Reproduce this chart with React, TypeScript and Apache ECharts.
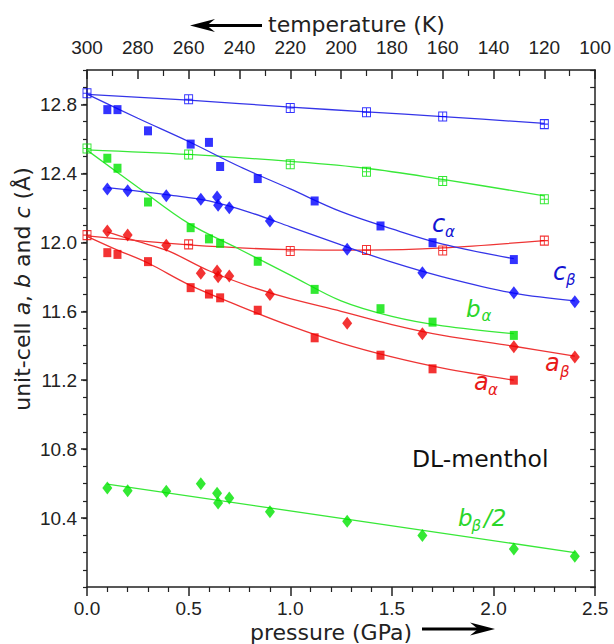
import React, { useEffect, useRef } from "react";
import * as echarts from "echarts";

// Pressure (GPa) of the high-pressure runs for each phase
const alphaPressure = [0.1, 0.15, 0.3, 0.51, 0.6, 0.655, 0.84, 1.12, 1.444, 1.7, 2.1];
const betaPressure = [0.1, 0.2, 0.39, 0.56, 0.64, 0.645, 0.7, 0.9, 1.28, 1.65, 2.1, 2.4];

// alpha phase cell edges (Å)
const cAlpha = [12.77, 12.77, 12.647, 12.57, 12.58, 12.44, 12.37, 12.24, 12.095, 11.998, 11.9];
const bAlpha = [12.488, 12.43, 12.234, 12.085, 12.02, 11.994, 11.89, 11.727, 11.615, 11.537, 11.46];
const aAlpha = [11.94, 11.93, 11.888, 11.737, 11.7, 11.678, 11.606, 11.446, 11.345, 11.266, 11.2];

// beta phase cell edges (Å)
const cBeta = [12.31, 12.3, 12.27, 12.25, 12.263, 12.215, 12.2, 12.124, 11.96, 11.824, 11.708, 11.655];
const aBeta = [12.066, 12.043, 11.983, 11.82, 11.833, 11.8, 11.804, 11.698, 11.53, 11.47, 11.394, 11.335];
const bBetaHalf = [10.575, 10.559, 10.555, 10.599, 10.544, 10.487, 10.516, 10.437, 10.381, 10.299, 10.22, 10.178];

// ambient-pressure cooling run, temperature (K)
const ambientTemp = [300, 260, 220, 190, 160, 120];
const cAmbient = [12.865, 12.83, 12.78, 12.755, 12.73, 12.686];
const bAmbient = [12.545, 12.51, 12.453, 12.41, 12.356, 12.25];
const aAmbient = [12.042, 11.988, 11.95, 11.955, 11.953, 12.01];

// fitted trend curves
const alphaFitP = [0, 0.25, 0.5, 0.75, 1.0, 1.25, 1.5, 1.75, 2.1];
const cAlphaFit = [12.86, 12.72, 12.585, 12.44, 12.31, 12.178, 12.078, 11.99, 11.905];
const bAlphaFit = [12.535, 12.32, 12.11, 11.96, 11.81, 11.66, 11.57, 11.515, 11.47];
const aAlphaFitP = [0, 0.15, 0.3, 0.5, 0.75, 1.0, 1.25, 1.5, 1.75, 2.1];
const aAlphaFit = [12.035, 11.955, 11.88, 11.755, 11.63, 11.515, 11.415, 11.335, 11.27, 11.2];
const betaFitP = [0.1, 0.25, 0.4, 0.6, 0.8, 1.0, 1.25, 1.5, 1.75, 2.1, 2.4];
const cBetaFit = [12.318, 12.297, 12.275, 12.24, 12.174, 12.09, 11.985, 11.885, 11.8, 11.705, 11.66];
const aBetaFit = [12.06, 12.005, 11.95, 11.835, 11.745, 11.673, 11.6, 11.523, 11.46, 11.397, 11.34];
const bBetaHalfFitP = [0.1, 2.4];
const bBetaHalfFit = [10.597, 10.2];
const cAmbientFit = [12.858, 12.825, 12.785, 12.757, 12.73, 12.69];
const bAmbientFit = [12.537, 12.51, 12.47, 12.43, 12.365, 12.27];
const aAmbientFit = [12.037, 11.985, 11.958, 11.955, 11.968, 12.01];

// axis ticks
const pressureTicks = [0, 0.5, 1.0, 1.5, 2.0, 2.5];
const temperatureTicks = [300, 280, 260, 240, 220, 200, 180, 160, 140, 120, 100];

const BLUE = "#0000ff";
const GREEN = "#00e400";
const RED = "#f00000";
const BLUE_LINE = "#3535e8";
const GREEN_LINE = "#38e838";
const RED_LINE = "#ee3434";
const INK = "#222222";

const FONT_NUM = '"Liberation Sans", Arial, sans-serif';
const FONT_TXT = '"DejaVu Sans", Verdana, sans-serif';

const OPEN_SQUARE = "path://M0 0H10V10H0Z M0 5H10 M5 0V10";

const zip = (xs: number[], ys: number[]) => xs.map((x, i) => [x, ys[i]]);

function fitLine(xs: number[], ys: number[], color: string, xAxisIndex = 0) {
  return {
    type: "line",
    xAxisIndex,
    yAxisIndex: 0,
    data: zip(xs, ys),
    showSymbol: false,
    smooth: 0.35,
    silent: true,
    lineStyle: { color, width: 1.3 },
    z: 2,
  };
}

function filled(xs: number[], ys: number[], color: string, symbol: string) {
  return {
    type: "scatter",
    xAxisIndex: 0,
    yAxisIndex: 0,
    data: zip(xs, ys),
    symbol: symbol === "diamond" ? "diamond" : "rect",
    symbolSize: symbol === "diamond" ? [10, 13] : [8, 9],
    itemStyle: { color },
    z: 4,
  };
}

function openSquares(ys: number[], color: string) {
  return {
    type: "scatter",
    xAxisIndex: 1,
    yAxisIndex: 0,
    data: zip(ambientTemp, ys),
    symbol: OPEN_SQUARE,
    symbolSize: [8, 9],
    itemStyle: { color: "rgba(255,255,255,0)", borderColor: color, borderWidth: 1 },
    z: 4,
  };
}

function label(x: number, y: number, text: string, color: string, size: number) {
  return {
    type: "text",
    x,
    y,
    z: 10,
    style: {
      text,
      fill: color,
      fontSize: size,
      fontFamily: FONT_TXT,
      fontStyle: "italic",
      align: "left",
      verticalAlign: "middle",
    },
  };
}

export default function App() {
  const ref = useRef<HTMLDivElement>(null);

  useEffect(() => {
    document.body.style.margin = "0";
    if (!ref.current) return;
    const chart = echarts.init(ref.current, undefined, { renderer: "svg" });

    const numLabel = { fontFamily: FONT_NUM, fontSize: 19, lineHeight: 19, color: INK };
    const axisLine = { show: true, lineStyle: { color: INK, width: 1.5 } };

    chart.setOption({
      animation: false,
      backgroundColor: "#ffffff",
      grid: { left: 87, right: 14, top: 70, bottom: 57 },
      xAxis: [
        {
          type: "value",
          position: "bottom",
          min: pressureTicks[0],
          max: pressureTicks[pressureTicks.length - 1],
          interval: 0.5,
          axisLine,
          axisTick: { show: true, length: 9, lineStyle: { color: INK, width: 1.5 } },
          minorTick: { show: true, splitNumber: 5, length: 5, lineStyle: { color: INK, width: 1.2 } },
          splitLine: { show: false },
          axisLabel: { ...numLabel, margin: 12, formatter: (v: number) => v.toFixed(1) },
        },
        {
          type: "value",
          position: "top",
          min: temperatureTicks[temperatureTicks.length - 1],
          max: temperatureTicks[0],
          interval: 20,
          inverse: true,
          axisLine,
          axisTick: { show: true, inside: true, length: 9, lineStyle: { color: INK, width: 1.5 } },
          minorTick: { show: true, splitNumber: 2, length: 6, lineStyle: { color: INK, width: 1.2 } },
          splitLine: { show: false },
          axisLabel: { ...numLabel, margin: 13 },
        },
      ],
      yAxis: [
        {
          type: "value",
          position: "left",
          min: 10,
          max: 13,
          interval: 0.4,
          axisLine,
          axisTick: { show: true, length: 6, lineStyle: { color: INK, width: 1.5 } },
          splitLine: { show: false },
          axisLabel: {
            ...numLabel,
            margin: 10,
            showMinLabel: false,
            showMaxLabel: false,
            formatter: (v: number) => v.toFixed(1),
          },
        },
        {
          type: "value",
          position: "right",
          min: 10,
          max: 13,
          interval: 0.1,
          axisLine,
          axisTick: { show: true, inside: true, length: 5, lineStyle: { color: INK, width: 1.2 } },
          splitLine: { show: false },
          axisLabel: { show: false },
        },
        {
          type: "value",
          position: "left",
          min: 10,
          max: 13,
          interval: 0.1,
          axisLine: { show: false },
          axisTick: { show: true, length: 4, lineStyle: { color: INK, width: 1.2 } },
          splitLine: { show: false },
          axisLabel: { show: false },
        },
      ],
      series: [
        fitLine(ambientTemp, cAmbientFit, BLUE_LINE, 1),
        fitLine(ambientTemp, bAmbientFit, GREEN_LINE, 1),
        fitLine(ambientTemp, aAmbientFit, RED_LINE, 1),
        fitLine(alphaFitP, cAlphaFit, BLUE_LINE),
        fitLine(alphaFitP, bAlphaFit, GREEN_LINE),
        fitLine(aAlphaFitP, aAlphaFit, RED_LINE),
        fitLine(betaFitP, cBetaFit, BLUE_LINE),
        fitLine(betaFitP, aBetaFit, RED_LINE),
        fitLine(bBetaHalfFitP, bBetaHalfFit, GREEN_LINE),
        openSquares(cAmbient, BLUE),
        openSquares(bAmbient, GREEN),
        openSquares(aAmbient, RED),
        filled(alphaPressure, cAlpha, BLUE, "rect"),
        filled(alphaPressure, bAlpha, GREEN, "rect"),
        filled(alphaPressure, aAlpha, RED, "rect"),
        filled(betaPressure, cBeta, BLUE, "diamond"),
        filled(betaPressure, aBeta, RED, "diamond"),
        filled(betaPressure, bBetaHalf, GREEN, "diamond"),
      ],
      graphic: [
        // axis titles with direction arrows
        {
          type: "text",
          x: 268,
          y: 24,
          style: { text: "temperature (K)", fill: INK, fontSize: 22, lineHeight: 22, fontFamily: FONT_TXT, align: "left", verticalAlign: "middle" },
        },
        { type: "line", shape: { x1: 204, y1: 25.5, x2: 262, y2: 25.5 }, style: { stroke: "#000", lineWidth: 3 } },
        { type: "polygon", shape: { points: [[190, 25.5], [215, 19], [207, 25.5], [215, 32]] }, style: { fill: "#000" } },
        {
          type: "text",
          x: 250,
          y: 632,
          style: { text: "pressure (GPa)", fill: INK, fontSize: 22, fontFamily: FONT_TXT, align: "left", verticalAlign: "middle" },
        },
        { type: "line", shape: { x1: 422, y1: 629, x2: 481, y2: 629 }, style: { stroke: "#000", lineWidth: 3 } },
        { type: "polygon", shape: { points: [[495, 629], [470, 622.5], [478, 629], [470, 635.5]] }, style: { fill: "#000" } },
        {
          type: "text",
          x: 22,
          y: 289,
          rotation: Math.PI / 2,
          style: {
            text: "{n|unit-cell }{i|a}{n|, }{i|b}{n| and }{i|c}{n| (Å)}",
            align: "center",
            verticalAlign: "middle",
            fill: INK,
            fontSize: 22,
            fontFamily: FONT_TXT,
            rich: {
              n: { fontSize: 22, fontFamily: FONT_TXT, fill: INK },
              i: { fontSize: 22, fontFamily: FONT_TXT, fontStyle: "italic", fill: INK },
            },
          },
        },
        {
          type: "text",
          x: 412,
          y: 459,
          style: { text: "DL-menthol", fill: "#111", fontSize: 23.5, fontFamily: FONT_TXT, align: "left", verticalAlign: "middle" },
        },
        // series labels
        label(432, 223.5, "c", "#1414d2", 24),
        label(445, 231.5, "α", "#1414d2", 15),
        label(553, 271.5, "c", "#1414d2", 24),
        label(566, 280, "β", "#1414d2", 15),
        label(466, 308.5, "b", "#2ad62a", 23),
        label(481.5, 315.5, "α", "#2ad62a", 15),
        label(545, 363, "a", "#e81a1a", 24),
        label(560, 371.5, "β", "#e81a1a", 15),
        label(474, 382, "a", "#e81a1a", 24),
        label(488, 390, "α", "#e81a1a", 15),
        label(458, 518, "b", "#2ad62a", 23),
        label(471.5, 526, "β", "#2ad62a", 15),
        label(484, 518, "/2", "#2ad62a", 23),
      ],
    });

    return () => chart.dispose();
  }, []);

  return (
    <div
      ref={ref}
      style={{ position: "absolute", left: 0, top: 0, width: 614, height: 644, background: "#fff" }}
    />
  );
}
